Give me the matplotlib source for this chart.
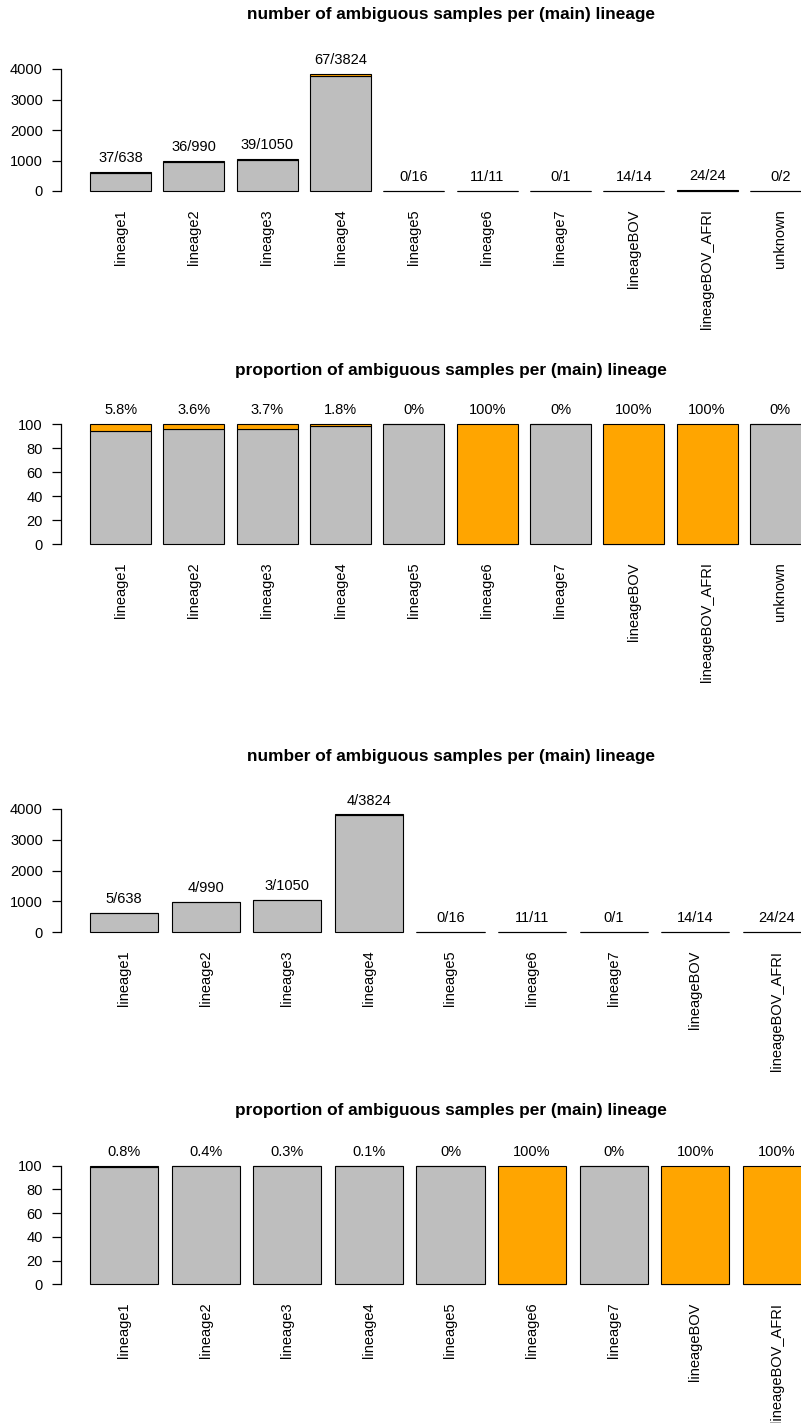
import numpy as np
import matplotlib.pyplot as plt

plt.rcParams['font.family'] = ['Liberation Sans', 'DejaVu Sans']

lineages_all = ['lineage1', 'lineage2', 'lineage3', 'lineage4', 'lineage5', 'lineage6',
                'lineage7', 'lineageBOV', 'lineageBOV_AFRI', 'unknown']
totals_all = [638, 990, 1050, 3824, 16, 11, 1, 14, 24, 2]
ambig_all = [37, 36, 39, 67, 0, 11, 0, 14, 24, 0]

lineages_main = lineages_all[:9]
totals_main = totals_all[:9]
ambig_main = [5, 4, 3, 4, 0, 11, 0, 14, 24]

W, H = 801, 1423
GREY = '#BEBEBE'
ORANGE = '#FFA500'
FS = 10.5

fig = plt.figure(figsize=(W / 100, H / 100), dpi=100)


def make_axes(y0_px, px_per_unit, ylim):
    # plot region in pixels: left 61.2, right 839.8 (runs past the right edge)
    bottom = y0_px - ylim[0] * px_per_unit
    top = y0_px - ylim[1] * px_per_unit
    ax = fig.add_axes([61.2 / W, 1 - bottom / H, 778.6 / W, (bottom - top) / H])
    ax.set_ylim(*ylim)
    return ax


def barpanel(ax, names, lower, upper, labels, yticks, title, title_y):
    n = len(names)
    x = 0.7 + 1.2 * np.arange(n)
    ax.bar(x, lower, width=1, color=GREY, edgecolor='black', linewidth=0.8)
    ax.bar(x, upper, width=1, bottom=lower, color=ORANGE, edgecolor='black', linewidth=0.8)
    tops = np.array(lower) + np.array(upper)
    for xi, ti, lab in zip(x, tops, labels):
        ax.annotate(lab, (xi, ti), xytext=(0, 10), textcoords='offset points',
                    ha='center', va='center', fontsize=FS, annotation_clip=False)
    span = 1.2 * n - 0.2
    ax.set_xlim(0.2 - 0.04 * span, 1.2 * n + 0.04 * span)
    ax.set_xticks(x)
    ax.set_xticklabels(names, rotation=90, fontsize=FS, va='top')
    ax.tick_params(axis='x', length=0, pad=9.5)
    ax.set_yticks(yticks)
    ax.set_yticklabels([str(t) for t in yticks], fontsize=FS)
    ax.tick_params(axis='y', length=6.2, width=0.9, pad=7)
    for s in ['top', 'right', 'bottom']:
        ax.spines[s].set_visible(False)
    ax.spines['left'].set_bounds(yticks[0], yticks[-1])
    ax.spines['left'].set_linewidth(0.9)
    ax.patch.set_visible(False)
    fig.text(450.5 / W, 1 - title_y / H, title, ha='center', va='center',
             fontsize=12.4, fontweight='bold')


count_ticks = [0, 1000, 2000, 3000, 4000]
pct_ticks = [0, 20, 40, 60, 80, 100]
t_num = 'number of ambiguous samples per (main) lineage'
t_prop = 'proportion of ambiguous samples per (main) lineage'


def pct_label(a, t):
    return '{:g}%'.format(round(100 * a / t, 1))


# counts, all lineages
ax1 = make_axes(191.0, 122.0 / 4000, (-170, 4400))
barpanel(ax1, lineages_all,
         [t - a for t, a in zip(totals_all, ambig_all)], ambig_all,
         ['{}/{}'.format(a, t) for a, t in zip(ambig_all, totals_all)],
         count_ticks, t_num, 14)

# proportions, all lineages
pa = [100 * a / t for a, t in zip(ambig_all, totals_all)]
ax2 = make_axes(544.0, 119.7 / 100, (-4.4, 114.4))
barpanel(ax2, lineages_all, [100 - p for p in pa], pa,
         [pct_label(a, t) for a, t in zip(ambig_all, totals_all)],
         pct_ticks, t_prop, 370)

# counts, main lineages
ax3 = make_axes(932.3, 123.3 / 4000, (-170, 4400))
barpanel(ax3, lineages_main,
         [t - a for t, a in zip(totals_main, ambig_main)], ambig_main,
         ['{}/{}'.format(a, t) for a, t in zip(ambig_main, totals_main)],
         count_ticks, t_num, 757)

# proportions, main lineages
pm = [100 * a / t for a, t in zip(ambig_main, totals_main)]
ax4 = make_axes(1284.3, 118.6 / 100, (-4.4, 114.4))
barpanel(ax4, lineages_main, [100 - p for p in pm], pm,
         [pct_label(a, t) for a, t in zip(ambig_main, totals_main)],
         pct_ticks, t_prop, 1110)

fig.savefig('out.png', dpi=100)
